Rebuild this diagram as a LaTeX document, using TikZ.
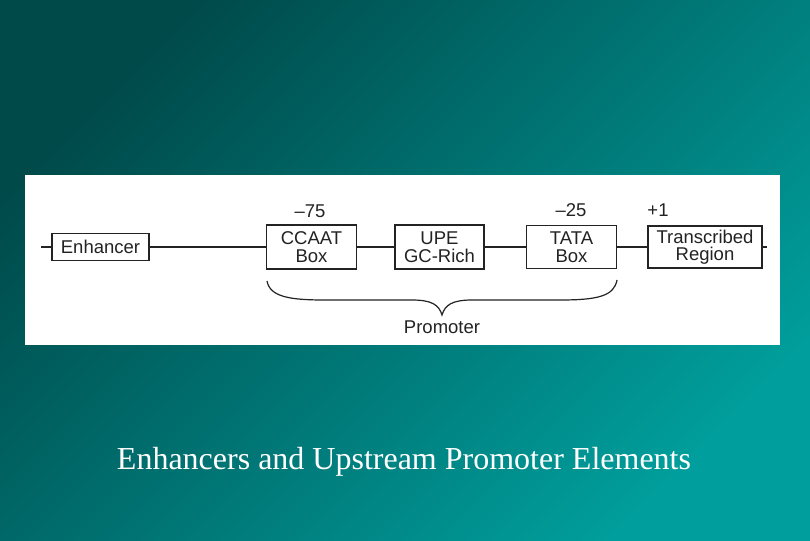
\documentclass[tikz,border=0pt]{standalone}
\usepackage{fontspec}
\setmainfont{Liberation Serif}
\newfontfamily\diagfont{Liberation Sans}
\usepackage{tikz}
\usetikzlibrary{calc}
\usetikzlibrary{positioning}
\usepackage{color}
\definecolor{deepteal}{RGB}{0, 74, 74}
\definecolor{lightteal}{RGB}{0, 158, 156}
\definecolor{inkgray}{RGB}{35, 35, 35}

\begin{document}
\begin{tikzpicture}[x=1pt, y=-1pt,
        element/.style={draw=inkgray, line width=1.5pt, fill=white, align=center, inner sep=0pt,
                        text=inkgray, font=\diagfont\fontsize{18.5}{17.5}\selectfont},
        wire/.style={draw=inkgray, line width=1.3pt},
        position/.style={text=inkgray, inner sep=0pt, font=\diagfont\fontsize{18.5}{17.5}\selectfont},
        title/.style={text=white, inner sep=0pt, font=\fontsize{32}{32}\selectfont}]
            % Slide background and white panel:
            \shade[top color=deepteal, bottom color=lightteal, shading angle=45]
                                                                       (  0.00,   0.00) rectangle (810.00, 540.00);
            \useasboundingbox                                          (  0.00,   0.00) rectangle (810.00, 540.00);
            \fill[white]                                               ( 25.00, 175.00) rectangle (780.00, 345.00);
            % Elements along the DNA:
            \node[element, minimum width=97, minimum height=27] (enhancer)    at (100.50, 247.00) {Enhancer};
            \node[element, minimum width=90, minimum height=44] (ccaat)       at (311.50, 247.00) {CCAAT\\Box};
            \node[element, minimum width=89, minimum height=44] (upe)         at (439.50, 247.00) {UPE\\GC-Rich};
            \node[element, minimum width=90, minimum height=43] (tata)        at (571.50, 247.00) {TATA\\Box};
            \node[element, minimum width=114, minimum height=42] (transcribed) at (705.00, 247.00) {Transcribed\\Region};
            \coordinate (leftend)  at ( 41.00, 247.00);
            \coordinate (rightend) at (767.00, 247.00);
            \draw[wire] (leftend)          -- (enhancer.west);
            \draw[wire] (enhancer.east)    -- (ccaat.west);
            \draw[wire] (ccaat.east)       -- (upe.west);
            \draw[wire] (upe.east)         -- (tata.west);
            \draw[wire] (tata.east)        -- (transcribed.west);
            \draw[wire] (transcribed.east) -- (rightend);
            % Positions:
            \node[position] (minus75) at (310.00, 211.00) {–75};
            \node[position] (minus25) at (571.00, 210.00) {–25};
            \node[position] (plusone) at (658.00, 210.00) {+1};
            % Promoter brace:
            \coordinate (braceleft)  at (267.00, 281.00);
            \coordinate (bracetip)   at (442.00, 315.00);
            \coordinate (braceright) at (617.00, 280.00);
            \draw[wire, line width=1.2pt]
                (braceleft) .. controls (270.00, 297.00) and (290.00, 300.00) .. (325.00, 300.00)
                -- (412.00, 300.00) .. controls (432.00, 300.00) and (439.00, 305.00) .. (bracetip)
                .. controls (445.00, 305.00) and (452.00, 300.00) .. (472.00, 300.00)
                -- (560.00, 300.00) .. controls (598.00, 300.00) and (614.00, 296.00) .. (braceright);
            \node[position] (promoter) at (442.00, 327.00) {Promoter};
            % Caption:
            \node[title] (caption) at (404.00, 462.00) {Enhancers and Upstream Promoter Elements};
        \end{tikzpicture}
\end{document}
